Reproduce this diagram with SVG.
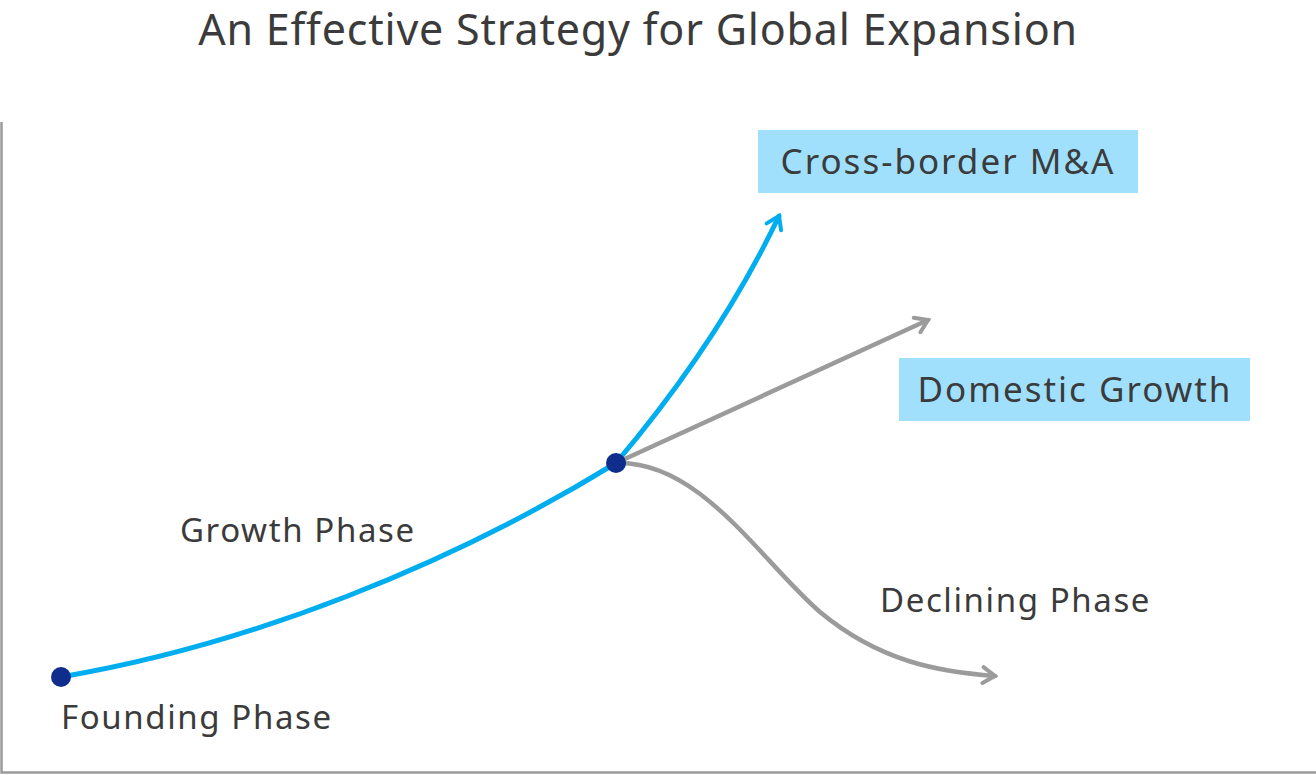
<svg xmlns="http://www.w3.org/2000/svg" width="1316" height="775" viewBox="0 0 1316 775">
<style>
text{font-family:"Noto Sans","Open Sans","Liberation Sans",sans-serif;fill:#3b3b3b}
.lbl{font-size:33px;letter-spacing:1.6px}
.blbl{font-size:35px;letter-spacing:2px}
.box{fill:#a0e0fd}
.blue{fill:none;stroke:#00aeef;stroke-width:5;stroke-linecap:round}
.gray{fill:none;stroke:#9b9b9b;stroke-width:4.5;stroke-linecap:round}
.dot{fill:#0f2d8c}
</style>
<defs>
<marker id="ab" viewBox="0 0 20 20" refX="16" refY="10" markerWidth="20" markerHeight="20" markerUnits="userSpaceOnUse" orient="auto">
<path d="M4,2 L16,10 L4,18" fill="none" stroke="#00aeef" stroke-width="4" stroke-linecap="round"/>
</marker>
<marker id="ag" viewBox="0 0 20 20" refX="16" refY="10" markerWidth="20" markerHeight="20" markerUnits="userSpaceOnUse" orient="auto">
<path d="M4,2 L16,10 L4,18" fill="none" stroke="#9b9b9b" stroke-width="4" stroke-linecap="round"/>
</marker>
</defs>
<rect width="1316" height="775" fill="#fff"/>
<text x="638" y="45" text-anchor="middle" style="font-size:43px;letter-spacing:0.8px">An Effective Strategy for Global Expansion</text>
<g id="axes">
<path d="M1.5,122 V772.5 H1316" fill="none" stroke="#9b9b9b" stroke-width="2.5"/>
</g>
<g id="connectors">
<path class="blue" d="M61,677 C250,645 450,565 616,463"/>
<path class="blue" d="M616,463 Q720,340 779,216" marker-end="url(#ab)"/>
<path class="gray" d="M616,463 L928,320" marker-end="url(#ag)"/>
<path class="gray" d="M616,463 C700,460 760,560 820,612 C880,662 940,672 995,676" marker-end="url(#ag)"/>
</g>
<g id="node-founding">
<circle class="dot" cx="61" cy="677" r="10"/>
<text class="lbl" x="61" y="729">Founding Phase</text>
</g>
<g id="node-growth">
<circle class="dot" cx="616" cy="463" r="10"/>
<text class="lbl" x="180" y="542">Growth Phase</text>
</g>
<g id="node-crossborder">
<rect class="box" x="758" y="130" width="380" height="63"/>
<text class="blbl" x="948" y="174" text-anchor="middle">Cross-border M&amp;A</text>
</g>
<g id="node-domestic">
<rect class="box" x="899" y="358" width="351" height="63"/>
<text class="blbl" x="1075" y="402" text-anchor="middle">Domestic Growth</text>
</g>
<g id="node-declining">
<text class="lbl" x="880" y="612">Declining Phase</text>
</g>
</svg>
